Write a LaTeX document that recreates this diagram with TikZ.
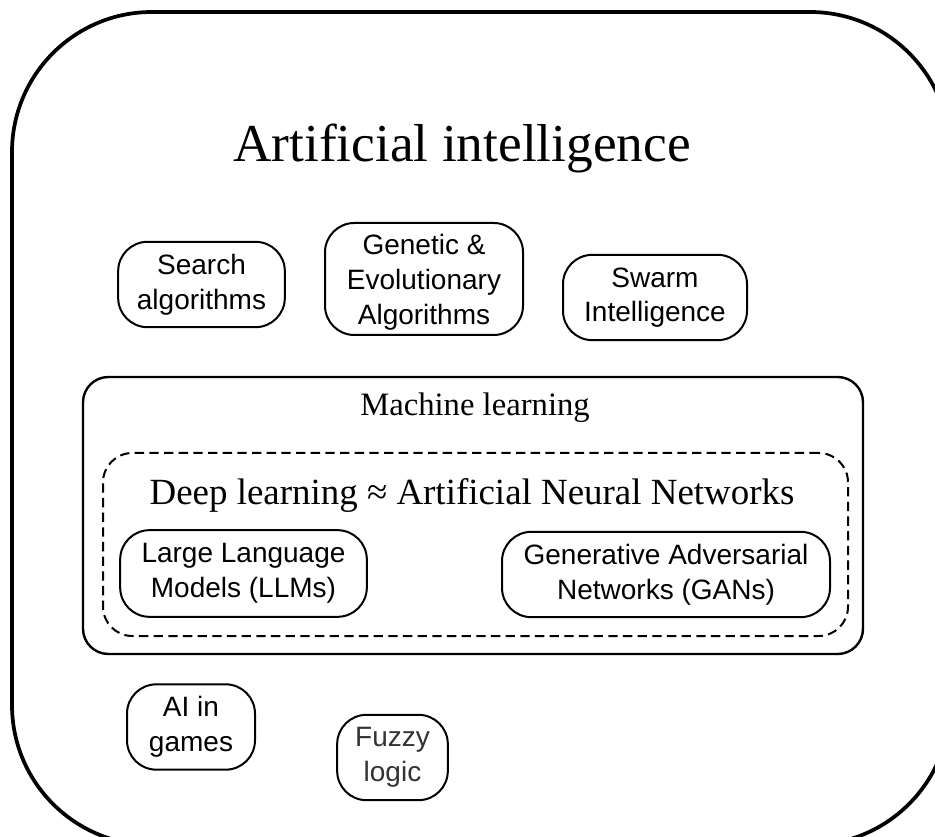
\documentclass[tikz,border=0pt]{standalone}
\usepackage{fontspec}
\setmainfont{Liberation Serif}
\newfontfamily\arialf{Liberation Sans}
\begin{document}
\begin{tikzpicture}[x=0.75pt,y=-0.75pt,
  algbox/.style={draw, line width=1.5pt, rounded corners=22pt, align=center,
    font=\arialf\fontsize{21}{26}\selectfont, inner sep=0pt},
  algtext/.style={align=center, font=\arialf\fontsize{21}{26}\selectfont, inner sep=0pt},
  outerframe/.style={draw, line width=2.8pt, rounded corners=105pt, inner sep=0pt},
  mlframe/.style={draw, line width=1.8pt, rounded corners=19pt, inner sep=0pt},
  dlframe/.style={draw, line width=1.5pt, dash pattern=on 7pt off 4pt, rounded corners=22pt, inner sep=0pt},
  serifl/.style={font=\fontsize{24.5}{29}\selectfont, anchor=base, inner sep=0pt}
]
\useasboundingbox (0,0) rectangle (935,837);
\clip (0,0) rectangle (935,837);

\node[outerframe, minimum width=703.5pt, minimum height=624.75pt] (ai) at (481,428.5) {};
\node[font=\fontsize{40}{48}\selectfont, anchor=base, inner sep=0pt] (title) at (462,162) {Artificial intelligence};

\node[algbox, minimum width=125pt, minimum height=64pt] (search) at (201.5,284.5) {Search\\algorithms};
\node[algbox, minimum width=148.5pt, minimum height=84pt] (genetic) at (424,279) {};
\node[algtext] (genetictext) at ([yshift=-2.5pt]genetic.center) {Genetic \&\\Evolutionary\\Algorithms};
\node[algbox, minimum width=138pt, minimum height=64pt] (swarm) at (655,297.5) {Swarm\\Intelligence};

\node[mlframe, minimum width=585pt, minimum height=207.75pt] (ml) at (473,515.5) {};
\node[serifl] (mllabel) at (475,416) {Machine learning};

\node[dlframe, minimum width=558.75pt, minimum height=137.25pt] (dl) at (475.5,544.5) {};
\node[serifl, font=\fontsize{27.7}{33}\selectfont] (dllabel) at (472,504) {Deep learning ≈ Artificial Neural Networks};

\node[algbox, minimum width=185pt, minimum height=65pt] (llm) at (243.5,573.5) {Large Language\\Models (LLMs)};
\node[algbox, minimum width=246pt, minimum height=64pt] (gan) at (666,574.5) {Generative Adversarial\\Networks (GANs)};

\node[algbox, minimum width=96pt, minimum height=64pt] (games) at (191,727) {AI in\\games};
\node[algbox, minimum width=83pt, minimum height=64pt, text=black!80] (fuzzy) at (392.5,757.5) {Fuzzy\\logic};
\end{tikzpicture}
\end{document}
